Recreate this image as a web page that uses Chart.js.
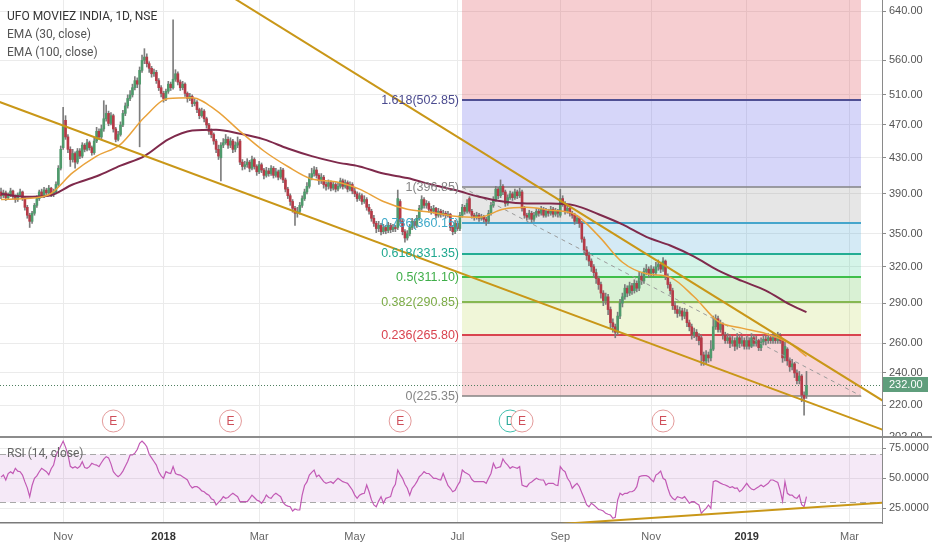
<!DOCTYPE html>
<html><head><meta charset="utf-8"><title>UFO MOVIEZ INDIA, 1D, NSE</title>
<script src="https://cdn.jsdelivr.net/npm/chart.js@4.4.1/dist/chart.umd.min.js"></script>
<style>
html,body{margin:0;padding:0;background:#fff;}
body{width:932px;height:550px;position:relative;overflow:hidden;}
canvas{position:absolute;left:0;display:block;}
#mainC{top:0;width:932px;height:436px;}
#rsiC{top:436px;width:932px;height:114px;}
.lg{position:absolute;left:7px;font-family:'Roboto',sans-serif;font-size:12px;color:#555;line-height:14px;white-space:nowrap;}
</style></head><body>
<canvas id="mainC" width="932" height="436"></canvas>
<canvas id="rsiC" width="932" height="114"></canvas>
<div class="lg" style="top:9px;color:#333">UFO MOVIEZ INDIA, 1D, NSE</div>
<div class="lg" style="top:27px">EMA (30, close)</div>
<div class="lg" style="top:45px">EMA (100, close)</div>
<div class="lg" style="top:446px;color:#666">RSI (14, close)</div>
<script>
// ---------- DATA ----------
const open = [
392,388,391,386,389,393,387,384,389,392,
385,376,368,362,370,378,385,392,388,394,
391,396,389,392,400,418,442,476,455,440,
428,435,425,438,432,445,440,448,442,436,
450,462,455,465,478,485,472,482,465,452,
458,470,485,495,505,510,520,530,525,545,
560,565,555,548,540,542,530,520,512,505,
515,525,520,532,540,528,520,525,512,505,
508,498,500,490,482,488,478,470,462,458,
450,440,430,445,448,452,445,450,440,445,
450,425,420,422,425,418,428,420,414,422,
416,410,415,412,418,410,414,408,416,405,
395,388,382,375,370,372,378,385,392,398,
408,412,416,410,404,408,400,398,402,396,
400,395,398,404,398,402,395,400,393,390,
385,388,382,384,376,372,365,360,355,358,
352,356,353,358,354,356,356,382,362,352,
346,350,356,362,358,365,375,384,378,380,
374,372,375,368,372,369,370,368,369,356,
352,360,355,368,376,372,385,372,368,366,
368,365,366,364,362,370,378,384,395,388,
398,392,380,386,390,386,392,388,392,375,
368,366,370,364,368,372,370,374,368,372,
370,374,369,372,368,385,380,372,375,370,
368,362,365,360,345,335,330,325,320,315,
310,305,298,292,295,285,275,272,268,280,
290,295,302,298,304,300,306,302,312,308,
316,318,314,318,315,320,322,318,325,312,
305,300,288,285,282,284,280,283,275,272,
266,268,265,264,252,248,252,250,256,272,
278,270,274,266,262,264,260,262,258,264,
260,262,258,262,258,264,260,262,257,261,
263,262,264,262,264,262,266,262,250,256,
248,244,246,240,235,238,226,226];
const high = [
396,394,393,391,396,394,389,391,395,393,
387,378,370,372,380,388,394,395,397,396,
399,397,395,403,421,444,493,482,458,443,
440,437,441,441,448,447,452,450,444,454,
467,465,470,502,496,488,486,484,467,462,
474,489,499,510,516,525,536,534,550,568,
578,570,558,551,547,545,533,523,515,518,
529,528,625,546,543,531,529,527,514,512,
510,505,502,492,492,490,480,472,465,460,
452,445,448,453,458,455,454,452,449,455,
452,428,426,429,427,432,430,422,426,424,
418,419,418,421,420,418,416,419,418,407,
397,390,384,377,376,381,388,395,402,412,
418,420,419,412,412,410,403,405,404,403,
402,402,407,406,405,404,403,402,396,392,
391,390,388,386,379,374,368,362,362,360,
359,358,361,360,359,358,394,384,364,354,
353,359,365,364,368,378,388,386,383,382,
377,378,376,375,374,373,372,372,370,358,
363,362,371,379,378,384,387,374,370,371,
370,369,368,366,373,381,387,398,397,405,
400,394,389,393,392,395,394,396,394,377,
370,373,372,371,375,374,377,376,375,374,
377,376,375,374,395,388,382,378,377,372,
370,368,366,362,347,338,333,327,322,318,
312,307,300,298,297,287,278,274,283,293,
298,305,304,307,306,309,308,316,315,319,
322,320,321,320,324,326,324,328,326,314,
307,302,291,288,287,286,286,285,277,274,
271,270,267,266,254,255,254,262,280,281,
280,277,275,268,267,266,265,264,267,266,
265,264,265,264,267,266,265,263,264,266,
265,267,266,267,266,268,267,263,261,257,
250,249,247,242,241,239,228,241];
const low = [
385,386,383,384,387,385,381,382,387,383,
373,365,356,360,368,376,383,386,386,389,
389,387,387,390,398,416,440,452,436,420,
425,418,423,429,430,437,438,439,433,434,
448,452,453,462,475,469,470,461,449,450,
456,468,482,492,502,507,517,520,443,542,
555,550,542,535,536,526,516,507,500,502,
512,516,518,529,524,516,517,508,500,502,
494,495,486,478,480,474,466,458,454,446,
436,428,404,442,446,441,442,436,437,442,
422,416,417,419,414,416,417,410,412,413,
406,408,409,410,407,408,405,406,402,392,
385,378,371,358,366,369,376,383,390,396,
405,409,407,400,401,396,394,395,393,394,
392,393,396,395,396,392,393,390,387,382,
383,379,380,373,369,362,357,351,352,349,
350,350,351,351,352,352,354,360,349,342,
344,348,354,355,356,363,373,375,375,371,
369,370,365,366,366,367,365,366,353,349,
350,353,353,366,369,370,370,365,363,364,
362,363,361,358,360,368,376,382,385,386,
389,377,378,384,383,384,385,386,372,365,
363,364,361,362,366,367,368,366,366,367,
368,366,367,366,366,377,369,370,367,365,
359,360,356,342,331,326,321,316,311,306,
301,294,288,289,281,271,268,264,266,278,
287,293,295,296,297,298,299,300,305,306,
313,311,312,312,313,317,315,316,309,302,
297,285,282,279,280,277,278,272,269,263,
264,262,259,245,245,246,247,248,255,270,
268,268,263,260,260,257,258,255,256,257,
258,256,256,256,257,258,258,255,255,259,
259,260,260,260,260,260,260,247,248,245,
241,242,237,233,233,222,214,224];
const close = [
388,391,386,389,393,387,384,389,392,385,
376,368,362,370,378,385,392,388,394,391,
396,389,392,400,418,440,468,455,440,428,
435,425,438,432,445,440,448,442,436,450,
462,455,465,478,485,472,482,465,452,458,
470,485,495,505,510,520,530,525,545,560,
565,555,548,540,542,530,520,512,505,515,
525,520,532,540,528,520,525,512,505,508,
498,500,490,482,488,478,470,462,458,450,
440,432,445,448,452,445,450,440,445,448,
425,420,422,425,418,428,420,414,422,416,
410,415,412,418,410,414,408,416,405,395,
388,382,375,370,372,378,385,392,398,408,
412,416,410,404,408,400,398,402,396,400,
395,398,404,398,402,395,400,393,390,385,
388,382,384,376,372,365,360,355,358,352,
356,353,358,354,356,355,385,362,352,346,
350,356,362,358,365,375,384,378,380,374,
372,375,368,372,369,370,368,369,356,352,
360,355,368,376,372,380,372,368,366,368,
365,366,364,362,370,378,384,395,388,398,
392,380,386,390,386,392,388,392,375,368,
366,370,364,368,372,370,374,368,372,370,
374,369,372,370,385,380,372,375,370,368,
362,365,360,345,335,330,325,320,315,310,
305,298,292,295,285,275,272,268,280,290,
295,302,298,304,300,306,302,312,308,316,
318,314,318,315,320,322,318,325,312,305,
300,288,285,282,284,280,283,275,272,266,
268,265,262,252,248,252,250,256,272,278,
270,274,266,262,264,260,262,258,264,260,
262,258,262,258,264,260,262,257,261,263,
262,264,262,264,262,266,262,250,258,248,
244,246,240,235,238,226,224,232];
const emaBars = [0,10,20,30,40,50,60,70,80,90,100,110,120,130,140,150,160,170,180,190,200,210,220,230,240,250,260,270,280,290,300,310,320,330,337];
const ema30 = [384,385,389,413,432,446,480,505,506,489,462,438,420,406,403,395,382,374,371,367,366,374,376,373,369,348,324,314,311,295,276,271,267,260,251];
const ema100 = [390,387,388,400,409,421,432,452,463,464,459,452,441,432,425,420,412,407,400,394,387,382,380,380,378,369,359,347,339,329,317,308,300,289,283];
const rsi = [
51,52.7,48.6,54,55.5,54,58.3,56,55.5,52.7,
47,42,34.7,44,50,52,55.5,58.3,57,55.5,
53,58,61,69.4,73,77,81,76,70,60,
58.5,59.7,58.3,60,63.8,59,58.3,59.7,62.5,61.5,
61,59.7,63,66,68,67,62,55.5,53,51.3,
53,56,60,64,69.4,69.4,71,74,79.2,81,
79,76.3,70,67,64,61,55.5,52,50,55.5,
54.5,54,59.7,54,53,52.7,51.3,50,48.6,44.4,
42,43,43,41.7,39.5,38.8,37,36,33,31.9,
27.8,30,31.9,34.7,33.3,34,36,37.5,36,34.7,
30.5,30.5,30.5,30.5,33,36,34,31.9,31,29.2,
32,36,34,33.3,36,37.5,36,34.7,30,27.8,
26.8,26.3,22.7,24.4,23.6,23.6,36,44,47,52.7,
55,56.9,51.3,52.7,50,47.2,45.8,46.5,47.2,45.8,
48,50,48.6,47.2,46.5,45.8,43,40.3,36,33.3,
36,37,37.5,44.4,38.8,32,27.8,26.3,31,34.7,
29.2,33.3,34,34.7,41.7,45,56.9,53,50,45,
41.7,36,41.7,44,47.2,51.3,53,55.5,54,54,
52,50,50,49,48.6,54,49,44,41.7,38.8,
40,44,47.2,56.9,55,54,52.7,49,47.2,47.2,
47.2,47.2,47.2,45.8,50,54,62.5,58.3,59,59.7,
66.1,63,61,58.3,59.7,59,58.3,59.7,44.4,43.5,
43,45.8,47,48.6,50,49,48.6,48.6,44.4,45.8,
45.8,45.8,44.4,44,59.7,57,55.5,50,47.2,41.7,
44,45.8,43,38,33.3,28,26.3,29.2,27.8,26,
24,23.6,22.7,20.8,20,19.4,16.7,17.5,31.9,37.5,
36,37.5,37.5,38.8,38.8,40,43,51.3,52,52.2,
52.2,51.3,49,47.2,52.7,54,56,50,48.6,41.7,
36,33.3,31.9,34.7,34,33.3,34.7,32,29.2,30.5,
30.5,29,27.8,20.8,23,25,27.8,25,47.2,48,
47.2,46,45,44.4,43.5,42.2,43,41.7,42,38.8,
40.3,43,45.8,43,41,40.3,41.7,43,44.4,43,
44.5,45.8,48.6,48.6,47.5,46.5,40,31,47.2,37.5,
36,36,34,33.3,36,28,26.3,34.7];
const monthBars = [26,68,108,148,191,234,272,312,355];
const monthLabels = ['Nov','2018','Mar','May','Jul','Sep','Nov','2019','Mar'];
const priceTicks = [202,220,240,260,290,320,350,390,430,470,510,560,640];
const rsiTicks = [25,50,75];
const rsiBand = [30,70];
const fibLevels = [0,0.236,0.382,0.5,0.618,0.786,1,1.618,2.618];
const fibPrices = [225.35,265.80,290.85,311.10,331.35,360.15,396.85,502.85,674.35];
const fibBars = [193,360];
const trendABars = [-10,380], trendAPrices = [511.6,200.3];
const trendBBars = [90,380], trendBPrices = [682.9,212.9];
const rsiTrendBars = [230,380], rsiTrendValues = [11.4,31.2];
const earningsBars = [47,96,167,218,277];
const dividendBars = [213];
const VIEW = {xMin:-0.42, xMax:368.6, yMin:202.3, yMax:659.5, rsiMin:12.75, rsiMax:85.25};

// ---------- STYLE ----------
const FONT = "'Liberation Sans', Arial, sans-serif";
const UP = '#4f9a6c', DOWN = '#b63a47', WICK = '#7d7d7d', GOLD = '#c99718';
const GRID = '#ebebeb', AXIS = '#8a8a8a';
const fibFills = ['rgba(220,60,70,0.22)','rgba(180,210,60,0.2)','rgba(80,190,60,0.22)','rgba(40,200,140,0.2)',
                  'rgba(60,160,210,0.22)','rgba(128,128,128,0.2)','rgba(90,90,230,0.25)','rgba(220,60,70,0.25)'];
const fibColors = ['#858585','#d9434f','#86b851','#3fbf4a','#22ad93','#45a6cc','#858585','#4f4f93','#d9434f'];
const fibTextColors = ['#858585','#d9434f','#7bab46','#3fae49','#20a88f','#3fa9c9','#858585','#4b4b8f','#d9434f'];

function zeroPad(s){ s.paddingLeft=0; s.paddingRight=0; s.paddingTop=0; s.paddingBottom=0; }
function pts(bars, vals){ return bars.map((b,k)=>({x:b, y:vals[k]})); }
function isYearTick(c){
  if (!c || !c.tick) return false;
  const lab = monthLabels[monthBars.indexOf(c.tick.value)] || '';
  return /^\d{4}$/.test(lab);
}

const mainDecor = {
  id:'mainDecor',
  beforeDatasetsDraw(chart){
    const {ctx, chartArea:a, scales:{x,y}} = chart;
    ctx.save();
    ctx.beginPath(); ctx.rect(a.left,a.top,a.width,a.height); ctx.clip();
    const x0 = Math.round(x.getPixelForValue(fibBars[0])), x1 = Math.round(x.getPixelForValue(fibBars[1]));
    for (let k=0;k<fibPrices.length-1;k++){
      const yb = y.getPixelForValue(fibPrices[k]), yt = y.getPixelForValue(fibPrices[k+1]);
      ctx.fillStyle = fibFills[k];
      ctx.fillRect(x0, yt, x1-x0, yb-yt);
    }
    for (let k=0;k<fibPrices.length;k++){
      const yy = Math.round(y.getPixelForValue(fibPrices[k]));
      ctx.strokeStyle = fibColors[k];
      ctx.lineWidth = (fibLevels[k]===0||fibLevels[k]===1)?1.5:2;
      ctx.beginPath(); ctx.moveTo(x0,yy); ctx.lineTo(x1,yy); ctx.stroke();
    }
    const yp = Math.round(y.getPixelForValue(close[close.length-1]))+0.5;
    ctx.setLineDash([1,2]); ctx.strokeStyle='#4f7f60'; ctx.lineWidth=1;
    ctx.beginPath(); ctx.moveTo(a.left,yp); ctx.lineTo(a.right,yp); ctx.stroke();
    ctx.restore();
  },
  afterDatasetsDraw(chart){
    const {ctx, chartArea:a, scales:{x,y}} = chart;
    ctx.save();
    const x0 = Math.round(x.getPixelForValue(fibBars[0]));
    ctx.font = `12.5px ${FONT}`; ctx.textAlign='right'; ctx.textBaseline='middle';
    for (let k=0;k<fibPrices.length;k++){
      const yy = y.getPixelForValue(fibPrices[k]);
      if (yy < a.top || yy > a.bottom) continue;
      ctx.fillStyle = fibTextColors[k];
      ctx.fillText(`${fibLevels[k]}(${fibPrices[k].toFixed(2)})`, x0-3, yy);
    }
    const ym = a.bottom - 15;
    const marker = (bar, letter, stroke, color) => {
      const xm = x.getPixelForValue(bar);
      ctx.beginPath(); ctx.arc(xm, ym, 11, 0, Math.PI*2);
      ctx.fillStyle='#fff'; ctx.fill();
      ctx.lineWidth=1; ctx.strokeStyle=stroke; ctx.stroke();
      ctx.fillStyle=color; ctx.font=`12px ${FONT}`; ctx.textAlign='center'; ctx.textBaseline='middle';
      ctx.fillText(letter, xm, ym+0.5);
    };
    dividendBars.forEach(b=>marker(b,'D','#43bfae','#2aa898'));
    earningsBars.forEach(b=>marker(b,'E','#e39a9a','#cf4f5a'));
    ctx.restore();
  },
  afterDraw(chart){
    const {ctx, chartArea:a, scales:{y}} = chart;
    const last = close[close.length-1];
    const yp = Math.round(y.getPixelForValue(last));
    ctx.save();
    ctx.fillStyle='#5f9e7c'; ctx.fillRect(a.right+1, yp-8, 45, 15);
    ctx.fillStyle='#fff'; ctx.font=`11px ${FONT}`; ctx.textAlign='left'; ctx.textBaseline='middle';
    ctx.fillText(last.toFixed(2), a.right+7, yp);
    ctx.restore();
  }
};

new Chart(document.getElementById('mainC'), {
  type:'bar',
  data:{datasets:[
    {type:'line', data:pts(trendABars,trendAPrices), borderColor:GOLD, borderWidth:2, pointRadius:0, order:0},
    {type:'line', data:pts(trendBBars,trendBPrices), borderColor:GOLD, borderWidth:2, pointRadius:0, order:0},
    {type:'line', data:pts(emaBars,ema30), borderColor:'#e9a23b', borderWidth:1.5, pointRadius:0, cubicInterpolationMode:'monotone', order:1},
    {type:'line', data:pts(emaBars,ema100), borderColor:'#7f2a4c', borderWidth:2, pointRadius:0, cubicInterpolationMode:'monotone', order:1},
    {type:'line', data:pts(fibBars,[fibPrices[6],fibPrices[0]]), borderColor:'#9a9a9a', borderDash:[4,4], borderWidth:1, pointRadius:0, order:2},
    {type:'bar', data:close.map((c,i)=>({x:i, y:[open[i], c]})), backgroundColor:close.map((c,i)=> c>=open[i]?UP:DOWN),
      barThickness:2, minBarLength:1, grouped:false, order:3},
    {type:'bar', data:close.map((c,i)=>({x:i, y:[low[i], high[i]]})), backgroundColor:WICK,
      barThickness:1, grouped:false, order:4}
  ]},
  options:{
    responsive:false, animation:false, devicePixelRatio:1, events:[],
    layout:{padding:0},
    plugins:{legend:{display:false}, tooltip:{enabled:false}},
    scales:{
      x:{type:'linear', min:VIEW.xMin, max:VIEW.xMax, offset:false,
         grid:{color:GRID, drawTicks:false, offset:false}, border:{display:false},
         ticks:{display:false},
         afterBuildTicks:s=>{ s.ticks = monthBars.map(v=>({value:v})); },
         afterFit:s=>{ s.height=0; zeroPad(s); }},
      y:{type:'logarithmic', position:'right', min:VIEW.yMin, max:VIEW.yMax, beginAtZero:false,
         grid:{color:GRID, tickLength:4, tickColor:AXIS}, border:{display:true, color:AXIS},
         ticks:{color:'#555', font:{family:FONT, size:11}, padding:3, autoSkip:false, callback:v=>Number(v).toFixed(2)},
         afterBuildTicks:s=>{ s.ticks = priceTicks.map(v=>({value:v})); },
         afterFit:s=>{ s.width=50; zeroPad(s); }}
    }
  },
  plugins:[mainDecor]
});

const rsiDecor = {
  id:'rsiDecor',
  beforeDatasetsDraw(chart){
    const {ctx, chartArea:a, scales:{y}} = chart;
    const yt = y.getPixelForValue(rsiBand[1]), yb = y.getPixelForValue(rsiBand[0]);
    ctx.save();
    ctx.fillStyle='rgba(155,39,176,0.1)';
    ctx.fillRect(a.left, yt, a.width, yb-yt);
    ctx.setLineDash([6,4]); ctx.strokeStyle='#a8a8a8'; ctx.lineWidth=1;
    [yt,yb].forEach(v=>{ const yy=Math.round(v)+0.5; ctx.beginPath(); ctx.moveTo(a.left,yy); ctx.lineTo(a.right,yy); ctx.stroke(); });
    ctx.restore();
  },
  afterDraw(chart){
    const {ctx} = chart;
    ctx.save();
    ctx.fillStyle='#8c8c8c'; ctx.fillRect(0,0,chart.width,2);
    ctx.restore();
  }
};

new Chart(document.getElementById('rsiC'), {
  type:'line',
  data:{datasets:[
    {data:pts(rsiTrendBars,rsiTrendValues), borderColor:GOLD, borderWidth:2, pointRadius:0, order:0},
    {data:rsi.map((v,i)=>({x:i, y:v})), borderColor:'#c25ab5', borderWidth:1.2, pointRadius:0, order:1}
  ]},
  options:{
    responsive:false, animation:false, devicePixelRatio:1, events:[],
    layout:{padding:0},
    plugins:{legend:{display:false}, tooltip:{enabled:false}},
    scales:{
      x:{type:'linear', position:'bottom', min:VIEW.xMin, max:VIEW.xMax, offset:false,
         grid:{color:GRID, drawTicks:false}, border:{display:true, color:'#7a7a7a', width:1.5},
         ticks:{padding:7, autoSkip:false, maxRotation:0,
           color:c=> isYearTick(c) ? '#333' : '#666',
           font:c=>({family:FONT, size:11, weight: isYearTick(c) ? 'bold' : 'normal'}),
           callback:v=>monthLabels[monthBars.indexOf(v)]},
         afterBuildTicks:s=>{ s.ticks = monthBars.map(v=>({value:v})); },
         afterFit:s=>{ s.height=27; zeroPad(s); }},
      y:{type:'linear', position:'right', min:VIEW.rsiMin, max:VIEW.rsiMax,
         grid:{color:GRID, tickLength:4, tickColor:AXIS}, border:{display:true, color:AXIS},
         ticks:{color:'#555', font:{family:FONT, size:11}, padding:3, autoSkip:false, callback:v=>Number(v).toFixed(4)},
         afterBuildTicks:s=>{ s.ticks = rsiTicks.map(v=>({value:v})); },
         afterFit:s=>{ s.width=50; zeroPad(s); }}
    }
  },
  plugins:[rsiDecor]
});
</script></body></html>
